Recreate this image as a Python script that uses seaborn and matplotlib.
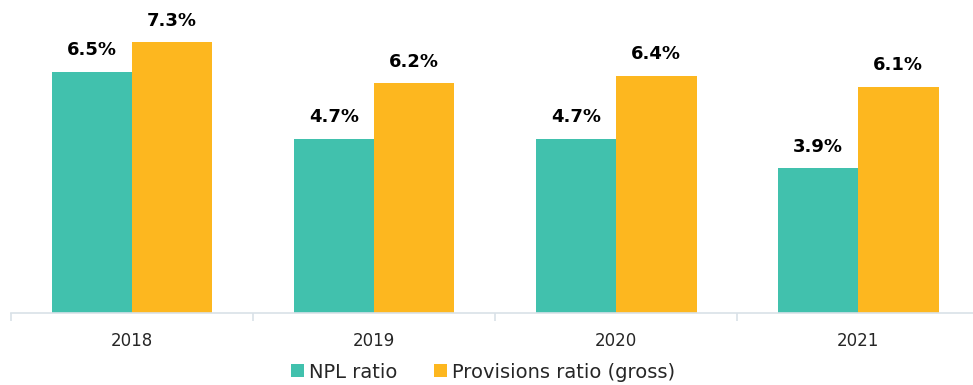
import pandas as pd
import matplotlib.pyplot as plt
import seaborn as sns

# Chart data
years = ["2018", "2019", "2020", "2021"]
npl_ratio = [6.5, 4.7, 4.7, 3.9]
provisions_ratio = [7.3, 6.2, 6.4, 6.1]
series_names = ["NPL ratio", "Provisions ratio (gross)"]
colors = ["#41C1AD", "#FDB71F"]

df = pd.DataFrame({
    "Year": years * 2,
    "Value": npl_ratio + provisions_ratio,
    "Series": [series_names[0]] * len(years) + [series_names[1]] * len(years),
})

sns.set_style("white")
plt.rcParams["font.family"] = ["DejaVu Sans"]

fig = plt.figure(figsize=(9.73, 3.85), dpi=100)
ax = fig.add_axes([11 / 973, 72 / 385, 962 / 973, 313 / 385])

sns.barplot(data=df, x="Year", y="Value", hue="Series", palette=colors,
            width=0.665, gap=0, saturation=1, linewidth=0, ax=ax)

# Value labels above bars
for container in ax.containers:
    ax.bar_label(container, labels=[f"{v:.1f}%" for v in container.datavalues],
                 padding=9, fontsize=13, fontweight="bold", color="black")

ax.set_xlim(-0.5, 3.475)
ax.set_ylim(0, 8.44)
ax.set_xlabel("")
ax.set_ylabel("")
ax.set_yticks([])

for side in ["top", "right", "left"]:
    ax.spines[side].set_visible(False)
ax.spines["bottom"].set_color("#D9E1E8")
ax.spines["bottom"].set_linewidth(1.2)

ax.tick_params(axis="x", which="major", bottom=False, length=0, pad=14,
               labelsize=12, labelcolor="#262626")
ax.set_xticks([-0.5, 0.5, 1.5, 2.5], minor=True)
ax.tick_params(axis="x", which="minor", bottom=True, length=6, width=1.2, color="#D9E1E8")

ax.legend(loc="center", bbox_to_anchor=(0.5 - 9 / 962, -59 / 313), ncol=2, frameon=False,
          fontsize=14, handlelength=0.65, handleheight=0.65, handletextpad=0.25,
          columnspacing=1.9, labelcolor="#262626", borderpad=0)

plt.savefig("out.png", dpi=100)
plt.close()
